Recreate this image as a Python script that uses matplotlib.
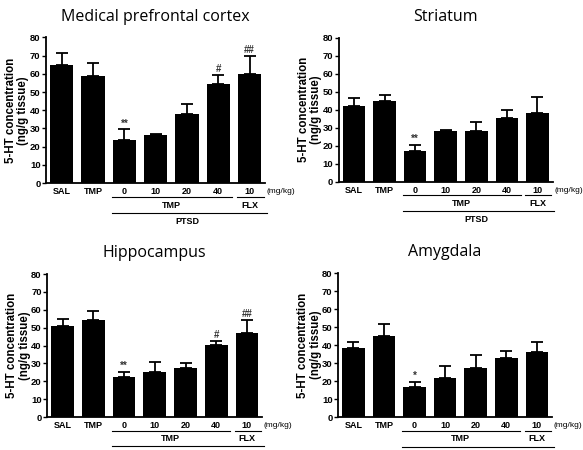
import numpy as np
import matplotlib
matplotlib.use("Agg")
import matplotlib.pyplot as plt
import matplotlib.transforms as mtransforms

plt.rcParams['font.family'] = ['Liberation Sans', 'DejaVu Sans']

# Datos
grupos = ['SAL', 'TMP', '0', '10', '20', '40', '10']
titulos = ['Medical prefrontal cortex', 'Striatum', 'Hippocampus', 'Amygdala']

mpfc_media = [65, 59, 23.5, 26.5, 38, 54.5, 60]
mpfc_err = [6.5, 7, 6, 0.7, 5.5, 5, 10]
mpfc_marca = ['', '', '**', '', '', '#', '##']

str_media = [42, 45, 17, 28, 28.5, 35.5, 38]
str_err = [4.5, 3, 3.5, 1, 4.5, 4.5, 9]
str_marca = ['', '', '**', '', '', '', '']

hip_media = [51, 54.5, 22.5, 25.5, 27.5, 40.5, 47]
hip_err = [4, 5, 3, 5.5, 2.5, 2, 7.5]
hip_marca = ['', '', '**', '', '', '#', '##']

amy_media = [38.5, 45, 17, 22, 27.5, 33, 36]
amy_err = [3, 7, 2.5, 6.5, 7, 4, 6]
amy_marca = ['', '', '*', '', '', '', '']

paneles = [
    (mpfc_media, mpfc_err, mpfc_marca),
    (str_media, str_err, str_marca),
    (hip_media, hip_err, hip_marca),
    (amy_media, amy_err, amy_marca),
]

# posiciones de los ejes en la figura [izq, abajo, ancho, alto]
posiciones = [
    [0.079, 0.593, 0.376, 0.324],
    [0.581, 0.596, 0.367, 0.320],
    [0.081, 0.073, 0.369, 0.318],
    [0.580, 0.073, 0.367, 0.320],
]

fig = plt.figure(figsize=(5.83, 4.5), dpi=100)

for i, (media, err, marca) in enumerate(paneles):
    ax = fig.add_axes(posiciones[i])
    x = np.arange(len(grupos))
    ax.bar(x, media, width=0.74, color='black', zorder=2)
    ax.errorbar(x, media, yerr=[np.zeros(len(err)), err], fmt='none',
                ecolor='black', elinewidth=1.3, capsize=4, capthick=1.3, zorder=1)
    for xi, m, e, s in zip(x, media, err, marca):
        if s:
            ax.text(xi, m + e + 0.5, s, ha='center', va='bottom', fontsize=7,
                    fontweight='bold', color='#333333')

    ax.set_xlim(-0.5, 6.5)
    ax.set_ylim(0, 80)
    ax.set_yticks(range(0, 81, 10))
    ax.set_xticks(x)
    ax.set_xticklabels(grupos, fontsize=6.5, fontweight='bold')
    ax.tick_params(axis='x', length=0, pad=3)
    ax.tick_params(axis='y', labelsize=6.8, length=3, width=1, pad=1)
    for lab in ax.get_yticklabels():
        lab.set_fontweight('bold')
    ax.spines['top'].set_visible(False)
    ax.spines['right'].set_visible(False)
    ax.spines['left'].set_linewidth(1.3)
    ax.spines['bottom'].set_linewidth(1.3)
    ax.set_ylabel('5-HT concentration\n(ng/g tissue)', fontsize=8.3,
                  fontweight='bold', linespacing=1.05)
    ax.yaxis.set_label_coords(-0.077, 0.5)
    ax.set_title(titulos[i], fontsize=11.5, pad=12, family='Open Sans')

    # líneas de agrupación debajo del eje
    trans = mtransforms.blended_transform_factory(ax.transData, ax.transAxes)
    ax.plot([1.6, 5.45], [-0.095, -0.095], color='black', lw=0.8,
            transform=trans, clip_on=False)
    ax.plot([5.6, 6.45], [-0.095, -0.095], color='black', lw=0.8,
            transform=trans, clip_on=False)
    ax.plot([1.6, 6.55], [-0.205, -0.205], color='black', lw=0.8,
            transform=trans, clip_on=False)
    ax.text(3.5, -0.15, 'TMP', ha='center', va='center', fontsize=6.5,
            fontweight='bold', transform=trans)
    ax.text(6.0, -0.15, 'FLX', ha='center', va='center', fontsize=6.5,
            fontweight='bold', transform=trans)
    ax.text(4.0, -0.26, 'PTSD', ha='center', va='center', fontsize=6.5,
            fontweight='bold', transform=trans)
    ax.text(6.55, -0.058, '(mg/kg)', ha='left', va='center', fontsize=6,
            transform=trans)

fig.savefig('out.png', dpi=100)
